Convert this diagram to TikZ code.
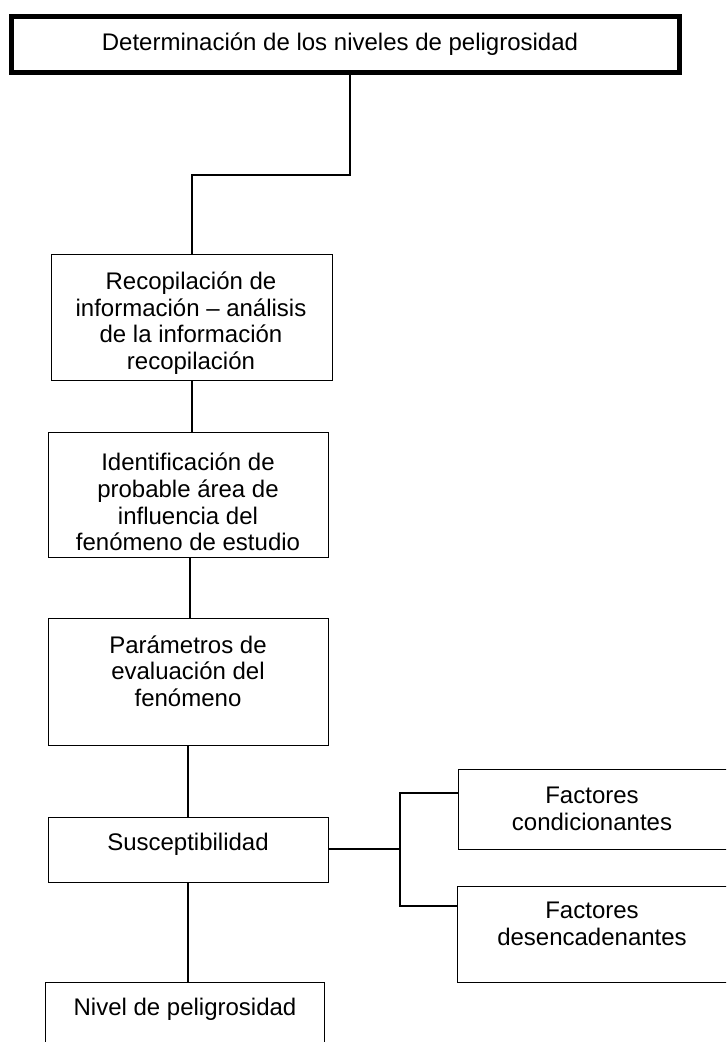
\documentclass[tikz,border=0pt]{standalone}
\usepackage{fontspec}
\setmainfont{Liberation Sans}
\begin{document}
\begin{tikzpicture}[x=1pt,y=-1pt,
  box/.style={draw=black, line width=1.4pt, anchor=north west, inner sep=0pt, fill=white},
  topbox/.style={box, line width=5pt},
  txt/.style={font=\fontsize{24}{26.6}\selectfont, align=center, inner sep=0pt, anchor=center},
  conn/.style={draw=black, line width=1.8pt}]
\useasboundingbox[fill=white] (0,0) rectangle (726,1042);
\begin{scope}
\clip (0,0) rectangle (726,1042);
% boxes
\node[topbox, minimum width=668pt, minimum height=56pt] (top) at (9,14) {};
\node[box, minimum width=281pt, minimum height=126pt] (b2) at (51,254) {};
\node[box, minimum width=280pt, minimum height=125pt] (b3) at (48,432) {};
\node[box, minimum width=280pt, minimum height=127pt] (b4) at (48,618) {};
\node[box, minimum width=280pt, minimum height=65pt] (b5) at (48,817) {};
\node[box, minimum width=279pt, minimum height=100pt] (b6) at (45,982) {};
\node[box, minimum width=290pt, minimum height=80pt] (f1) at (458,769) {};
\node[box, minimum width=290pt, minimum height=96pt] (f2) at (457,886) {};
% texts
\node[txt] (ttop) at (340,44.5) {Determinación de los niveles de peligrosidad};
\node[txt] (t2) at (191,323) {Recopilación de\\información – análisis\\de la información\\recopilación};
\node[txt] (t3) at (188,502) {Identificación de\\probable área de\\influencia del\\fenómeno de estudio};
\node[txt] (t4) at (188,671) {Parámetros de\\evaluación del\\fenómeno};
\node[txt] (t5) at (188,844.5) {Susceptibilidad};
\node[txt] (t6) at (185,1009) {Nivel de peligrosidad};
\node[txt] (tf1) at (592,809) {Factores\\condicionantes};
\node[txt] (tf2) at (592,924) {Factores\\desencadenantes};
% connectors
\coordinate (bus) at (400,849);
\draw[conn] ([xshift=4.5pt]top.south) -- ([xshift=4.5pt]top.south |- 0,175) -| (b2.north);
\draw[conn] (b2.south) -- (b2.south |- b3.north);
\draw[conn] ([xshift=1pt]b3.south) -- ([xshift=1pt]b4.north);
\draw[conn] ([xshift=-1pt]b4.south) -- ([xshift=-1pt]b5.north);
\draw[conn] ([xshift=-1pt]b5.south) -- ([xshift=-1pt]b5.south |- b6.north);
\draw[conn] (b5.east |- bus) -- (bus);
\draw[conn] (bus) |- ([yshift=-24pt]f1.north west);
\draw[conn] (bus) |- ([yshift=-20pt]f2.north west);
\end{scope}
\end{tikzpicture}
\end{document}
